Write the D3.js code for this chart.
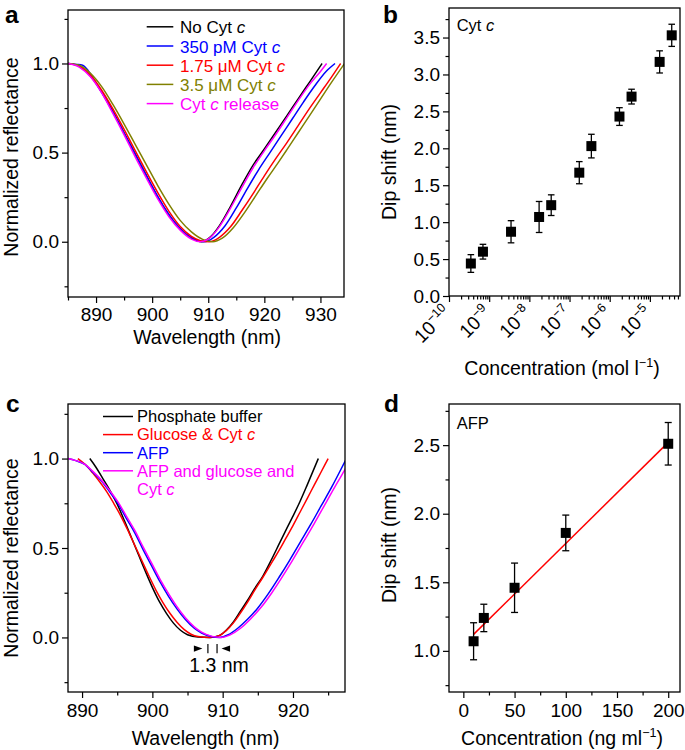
<!DOCTYPE html>
<html><head><meta charset="utf-8">
<script src="https://cdn.jsdelivr.net/npm/d3@7"></script>
<style>
body{margin:0;background:#fff;}
svg{font-family:"Liberation Sans",Arial,Helvetica,sans-serif;}
</style></head><body>
<svg id="chart" width="685" height="750"></svg>
<script>
// ---------- Panel a data (wavelength nm, normalized reflectance) ----------
const aLabels = ["No Cyt *c*", "350 pM Cyt *c*", "1.75 μM Cyt *c*", "3.5 μM Cyt *c*", "Cyt *c* release"];
const aColors = ["#000000", "#0000ff", "#ff0000", "#808000", "#ff00ff"];
const aNoCyt = [[885,1.0],[887,0.985],[889,0.93],[891,0.84],[893,0.73],[895,0.61],[897,0.49],[899,0.37],[901,0.25],[903,0.15],[905,0.07],[907,0.02],[908.8,0.0],[910.5,0.03],[912,0.09],[914,0.20],[916,0.32],[918,0.43],[920,0.52],[922,0.613],[924,0.706],[926,0.80],[928,0.893],[930.3,1.0]];
const a350pM = [[885,1.0],[886.5,0.995],[887.6,0.99],[888.6,0.96],[890,0.89],[892,0.785],[894,0.67],[896,0.55],[898,0.43],[900,0.31],[902,0.20],[904,0.11],[906,0.045],[908,0.008],[909.3,0.0],[911,0.025],[913,0.09],[915,0.19],[917,0.30],[919,0.405],[921,0.50],[923,0.595],[925,0.69],[927,0.785],[929,0.875],[931,0.955],[932.6,1.0]];
const a175uM = [[885,1.0],[887,0.985],[889,0.935],[891,0.85],[893,0.745],[895,0.63],[897,0.51],[899,0.39],[901,0.275],[903,0.17],[905,0.085],[907,0.03],[908.6,0.006],[910.2,0.0],[912,0.025],[914,0.085],[916,0.175],[918,0.27],[920,0.37],[922,0.465],[924,0.555],[926,0.65],[928,0.745],[930,0.835],[932,0.925],[933.6,1.0]];
const a35uM = [[885,1.0],[887,0.99],[889,0.945],[891,0.87],[893,0.77],[895,0.66],[897,0.545],[899,0.43],[901,0.315],[903,0.21],[905,0.12],[907,0.055],[909,0.013],[910.8,0.0],[912.5,0.02],[914.5,0.08],[916.5,0.165],[918.5,0.26],[920.5,0.355],[922.5,0.445],[924,0.515],[926,0.61],[928,0.705],[930,0.80],[932,0.895],[934.3,1.0]];
const aRelease = [[885,1.0],[887,0.98],[889,0.925],[891,0.835],[893,0.72],[895,0.60],[897,0.475],[899,0.355],[901,0.24],[903,0.14],[905,0.065],[907,0.015],[908.6,0.0],[910.5,0.028],[912,0.085],[914,0.19],[916,0.305],[918,0.415],[920,0.51],[922,0.60],[924,0.695],[926,0.79],[928,0.88],[930,0.955],[931.1,1.0]];
const aSeries = [aNoCyt, a350pM, a175uM, a35uM, aRelease];
const aXTicks = [890, 900, 910, 920, 930];
const aXMinor = [885, 895, 905, 915, 925];
const reflTicks = [0.0, 0.5, 1.0];
const reflMinor = [-0.25, 0.25, 0.75, 1.25];

// ---------- Panel b data ----------
const bConc = [3.5e-10, 7e-10, 3.5e-9, 1.75e-8, 3.5e-8, 1.75e-7, 3.5e-7, 1.75e-6, 3.5e-6, 1.75e-5, 3.5e-5];
const bShift = [0.44, 0.60, 0.87, 1.07, 1.23, 1.67, 2.03, 2.43, 2.70, 3.17, 3.53];
const bErr = [0.12, 0.10, 0.15, 0.21, 0.14, 0.15, 0.16, 0.12, 0.10, 0.15, 0.15];
const bTickExps = [-10, -9, -8, -7, -6, -5];
const bYTicks = [0.0, 0.5, 1.0, 1.5, 2.0, 2.5, 3.0, 3.5];
const bYMinor = [0.25, 0.75, 1.25, 1.75, 2.25, 2.75, 3.25, 3.75];

// ---------- Panel c data ----------
const cLabels = ["Phosphate buffer", "Glucose & Cyt *c*", "AFP", "AFP and glucose and|Cyt *c*"];
const cColors = ["#000000", "#ff0000", "#0000ff", "#ff00ff"];
const cBuffer = [[891.1,1.0],[892,0.95],[893,0.885],[894,0.82],[895,0.745],[896,0.655],[897,0.56],[898,0.465],[899,0.37],[900,0.28],[901,0.20],[902,0.135],[903,0.08],[904,0.04],[905,0.015],[906.5,0.002],[908.2,0.0],[909.5,0.01],[910.5,0.04],[911.5,0.085],[912.5,0.145],[913.5,0.205],[914.5,0.27],[915.7,0.342],[917,0.44],[918,0.52],[919,0.60],[920,0.678],[921,0.76],[922,0.85],[923.6,1.0]];
const cGlucose = [[889.4,1.0],[890.5,0.965],[891.5,0.92],[892.5,0.87],[893.5,0.815],[894.5,0.75],[895.5,0.68],[896.5,0.60],[897.5,0.515],[898.5,0.43],[899.5,0.345],[900.5,0.265],[901.5,0.195],[902.5,0.135],[903.5,0.085],[904.5,0.045],[905.5,0.018],[906.5,0.005],[908.2,0.0],[909.5,0.01],[910.5,0.038],[911.5,0.08],[912.5,0.135],[913.5,0.195],[914.5,0.26],[915.7,0.335],[917,0.42],[918,0.485],[919,0.555],[920,0.625],[921,0.70],[922,0.775],[923,0.85],[924,0.925],[925,1.0]];
const cAFP = [[888,1.0],[889,0.99],[890.4,0.967],[891.5,0.925],[892.8,0.873],[894,0.81],[895.2,0.743],[896.3,0.665],[897.5,0.585],[898.7,0.49],[899.9,0.40],[901.1,0.31],[902.3,0.23],[903.5,0.16],[904.7,0.10],[906,0.05],[907,0.025],[908.5,0.004],[909.5,0.0],[910.8,0.015],[912.1,0.05],[913.5,0.10],[915,0.165],[916.5,0.245],[918,0.335],[919.5,0.43],[921,0.53],[922.5,0.63],[924,0.735],[925.5,0.84],[926.5,0.915],[927.6,1.0]];
const cAll = [[888,1.0],[889,0.99],[890.4,0.968],[891.5,0.93],[892.8,0.878],[894,0.818],[895.2,0.752],[896.3,0.678],[897.5,0.598],[898.7,0.505],[899.9,0.415],[901.1,0.325],[902.3,0.245],[903.5,0.172],[904.7,0.11],[906,0.058],[907,0.03],[908.5,0.006],[909.8,0.0],[911,0.013],[912.5,0.05],[914,0.105],[915.5,0.17],[917,0.25],[918.5,0.34],[920,0.435],[921.5,0.535],[923,0.635],[924.5,0.74],[926,0.845],[927.5,0.945],[928.3,1.0]];
const cSeries = [cBuffer, cGlucose, cAFP, cAll];
const cXTicks = [890, 900, 910, 920];
const cXMinor = [895, 905, 915, 925];
const cShiftFrom = 907.9, cShiftTo = 909.2; // 1.3 nm
const cShiftLabel = "1.3 nm";

// ---------- Panel d data ----------
const dConc = [10, 20, 50, 100, 200];
const dShift = [1.07, 1.24, 1.46, 1.86, 2.51];
const dErr = [0.135, 0.10, 0.18, 0.13, 0.155];
const dFitX = [10, 200];
const dFitY = [1.12, 2.52];
const dXTicks = [0, 50, 100, 150, 200];
const dXMinor = [25, 75, 125, 175];
const dYTicks = [1.0, 1.5, 2.0, 2.5];
const dYMinor = [0.75, 1.25, 1.75, 2.25, 2.75];

// ---------- Layout ----------
const svg = d3.select("#chart");
const FS = 19;
const fa = {l:68, r:344, t:10, b:297};
const fb = {l:449, r:680, t:8, b:296};
const fc = {l:68, r:345, t:404, b:692};
const fd = {l:449, r:680, t:404, b:692};

function styleAxis(sel){
  sel.select(".domain").remove();
  sel.attr("font-family", null).attr("font-size", null);
  sel.selectAll(".tick line").attr("stroke", "#000").attr("stroke-width", 1.2);
  sel.selectAll(".tick text").attr("fill", "#000").attr("font-size", FS);
}
function xAxis(scale, f, major, minor, fmt, pad){
  const g = svg.append("g").attr("transform", `translate(0,${f.b})`);
  g.call(d3.axisBottom(scale).tickValues(major).tickSize(6).tickPadding(pad).tickFormat(fmt)).call(styleAxis);
  const g2 = svg.append("g").attr("transform", `translate(0,${f.b})`);
  g2.call(d3.axisBottom(scale).tickValues(minor).tickSize(3.5).tickFormat("")).call(styleAxis);
}
function yAxis(scale, f, major, minor, fmt){
  const g = svg.append("g").attr("transform", `translate(${f.l},0)`);
  g.call(d3.axisLeft(scale).tickValues(major).tickSize(6).tickPadding(3).tickFormat(fmt)).call(styleAxis);
  const g2 = svg.append("g").attr("transform", `translate(${f.l},0)`);
  g2.call(d3.axisLeft(scale).tickValues(minor).tickSize(3.5).tickFormat("")).call(styleAxis);
}
function frame(f){
  svg.append("rect").attr("x", f.l).attr("y", f.t).attr("width", f.r - f.l).attr("height", f.b - f.t)
    .attr("fill", "none").attr("stroke", "#000").attr("stroke-width", 1.3);
}
function clip(id, f){
  svg.append("clipPath").attr("id", id).append("rect").attr("x", f.l).attr("y", f.t).attr("width", f.r - f.l).attr("height", f.b - f.t);
}
function richText(sel, str){
  str.split("*").forEach((part, i) => {
    if (!part) return;
    sel.append("tspan").text(part).attr("font-style", i % 2 ? "italic" : null);
  });
}
function panelLabel(t, x, y){
  svg.append("text").attr("x", x).attr("y", y).attr("font-size", 24.5).attr("font-weight", "bold").text(t);
}
function yTitle(t, x, y){
  svg.append("text").attr("transform", `translate(${x},${y}) rotate(-90)`).attr("text-anchor", "middle").attr("font-size", 19.5).text(t);
}
function xTitleSup(base, sup, x, y){
  const t = svg.append("text").attr("x", x).attr("y", y).attr("text-anchor", "middle").attr("font-size", 19.5);
  t.append("tspan").text(base);
  t.append("tspan").attr("font-size", 12.5).attr("dy", -8).text(sup);
  t.append("tspan").attr("dy", 8).text(")");
}

// ---------- Panel a ----------
const xa = d3.scaleLinear().domain([885, 934.2]).range([fa.l, fa.r]);
const ya = d3.scaleLinear().domain([-0.31, 1.30]).range([fa.b, fa.t]);
clip("clipA", fa);
const lineA = d3.line().x(d => xa(d[0])).y(d => ya(d[1])).curve(d3.curveMonotoneX);
svg.append("g").attr("clip-path", "url(#clipA)").selectAll("path").data(aSeries).join("path")
  .attr("d", lineA).attr("fill", "none").attr("stroke", (d, i) => aColors[i]).attr("stroke-width", 1.5);
xAxis(xa, fa, aXTicks, aXMinor, d3.format("d"), 5);
yAxis(ya, fa, reflTicks, reflMinor, d3.format(".1f"));
frame(fa);
aLabels.forEach((lab, i) => {
  const by = 33.3 + i * 19.2;
  svg.append("line").attr("x1", 146.7).attr("x2", 173.3).attr("y1", by - 6.5).attr("y2", by - 6.5)
    .attr("stroke", aColors[i]).attr("stroke-width", 1.5);
  const t = svg.append("text").attr("x", 180).attr("y", by).attr("font-size", 17).attr("fill", aColors[i]);
  richText(t, lab);
});
panelLabel("a", 5, 23);
yTitle("Normalized reflectance", 17.5, 157);
svg.append("text").attr("x", 207).attr("y", 343.5).attr("text-anchor", "middle").attr("font-size", 19.5).text("Wavelength (nm)");

// ---------- Panel b ----------
const xb = d3.scaleLog().domain([1e-10, Math.pow(10, -4.25)]).range([fb.l, fb.r]);
const yb = d3.scaleLinear().domain([0, 3.9]).range([fb.b, fb.t]);
const bMajor = bTickExps.map(e => Math.pow(10, e));
const bMinor = [];
bTickExps.forEach(e => { for (let k = 2; k <= 9; k++) { const v = k * Math.pow(10, e); if (v <= xb.domain()[1]) bMinor.push(v); } });
xAxis(xb, fb, bMajor, bMinor, () => "", 6);
yAxis(yb, fb, bYTicks, bYMinor, d3.format(".1f"));
frame(fb);
svg.append("g").selectAll("text").data(bTickExps).join("text")
  .attr("transform", d => `translate(${xb(Math.pow(10, d)) + 3},${fb.b + 18}) rotate(-45)`)
  .attr("text-anchor", "end").attr("font-size", FS)
  .each(function(d){
    const t = d3.select(this);
    t.append("tspan").text("10");
    t.append("tspan").attr("font-size", 12.5).attr("dy", -8).text("−" + Math.abs(d));
  });
const gb = svg.append("g");
bConc.forEach((c, i) => {
  const x = xb(c), y0 = yb(bShift[i] - bErr[i]), y1 = yb(bShift[i] + bErr[i]);
  gb.append("line").attr("x1", x).attr("x2", x).attr("y1", y0).attr("y2", y1).attr("stroke", "#000").attr("stroke-width", 1.3);
  [y0, y1].forEach(yy => gb.append("line").attr("x1", x - 3.3).attr("x2", x + 3.3).attr("y1", yy).attr("y2", yy).attr("stroke", "#000").attr("stroke-width", 1.3));
  gb.append("rect").attr("x", x - 5).attr("y", yb(bShift[i]) - 5).attr("width", 10).attr("height", 10).attr("fill", "#000");
});
{
  const t = svg.append("text").attr("x", 456.7).attr("y", 30.5).attr("font-size", 16.5);
  richText(t, "Cyt *c*");
}
panelLabel("b", 383, 23);
yTitle("Dip shift (nm)", 395.5, 162);
xTitleSup("Concentration (mol l", "−1", 562, 375);

// ---------- Panel c ----------
const xc = d3.scaleLinear().domain([888, 927.4]).range([fc.l, fc.r]);
const yc = d3.scaleLinear().domain([-0.305, 1.305]).range([fc.b, fc.t]);
clip("clipC", fc);
const lineC = d3.line().x(d => xc(d[0])).y(d => yc(d[1])).curve(d3.curveMonotoneX);
svg.append("g").attr("clip-path", "url(#clipC)").selectAll("path").data(cSeries).join("path")
  .attr("d", lineC).attr("fill", "none").attr("stroke", (d, i) => cColors[i]).attr("stroke-width", 1.5);
xAxis(xc, fc, cXTicks, cXMinor, d3.format("d"), 6);
yAxis(yc, fc, reflTicks, reflMinor, d3.format(".1f"));
frame(fc);
{
  let by = 422.3;
  cLabels.forEach((lab, i) => {
    svg.append("line").attr("x1", 103).attr("x2", 133).attr("y1", by - 5.8).attr("y2", by - 5.8)
      .attr("stroke", cColors[i]).attr("stroke-width", 1.5);
    lab.split("|").forEach((ln, j) => {
      const t = svg.append("text").attr("x", 137).attr("y", by + j * 18.5).attr("font-size", 16.5).attr("fill", cColors[i]);
      richText(t, ln);
    });
    by += 18.1 * lab.split("|").length;
  });
  // shift annotation
  const x0 = xc(cShiftFrom), x1 = xc(cShiftTo), ay = 648.6;
  const ga = svg.append("g");
  [x0, x1].forEach(x => ga.append("line").attr("x1", x).attr("x2", x).attr("y1", 644).attr("y2", 653.3).attr("stroke", "#000").attr("stroke-width", 1.2));
  ga.append("path").attr("d", `M${x0 - 5.5},${ay} L${x0 - 14},${ay - 3.2} L${x0 - 14},${ay + 3.2} Z`).attr("fill", "#000");
  ga.append("path").attr("d", `M${x1 + 4.5},${ay} L${x1 + 13},${ay - 3.2} L${x1 + 13},${ay + 3.2} Z`).attr("fill", "#000");
  ga.append("text").attr("x", (x0 + x1) / 2 + 6.5).attr("y", 671.7).attr("text-anchor", "middle").attr("font-size", 19.5).text(cShiftLabel);
}
panelLabel("c", 6, 412);
yTitle("Normalized reflectance", 17.5, 558);
svg.append("text").attr("x", 205.5).attr("y", 745).attr("text-anchor", "middle").attr("font-size", 19.5).text("Wavelength (nm)");

// ---------- Panel d ----------
const xd = d3.scaleLinear().domain([-14, 211.5]).range([fd.l, fd.r]);
const yd = d3.scaleLinear().domain([0.7, 2.8]).range([fd.b, fd.t]);
xAxis(xd, fd, dXTicks, dXMinor, d3.format("d"), 6);
yAxis(yd, fd, dYTicks, dYMinor, d3.format(".1f"));
frame(fd);
svg.append("line").attr("x1", xd(dFitX[0])).attr("x2", xd(dFitX[1])).attr("y1", yd(dFitY[0])).attr("y2", yd(dFitY[1]))
  .attr("stroke", "#ff0000").attr("stroke-width", 1.5);
const gd = svg.append("g");
dConc.forEach((c, i) => {
  const x = xd(c), y0 = yd(dShift[i] - dErr[i]), y1 = yd(dShift[i] + dErr[i]);
  gd.append("line").attr("x1", x).attr("x2", x).attr("y1", y0).attr("y2", y1).attr("stroke", "#000").attr("stroke-width", 1.3);
  [y0, y1].forEach(yy => gd.append("line").attr("x1", x - 3.5).attr("x2", x + 3.5).attr("y1", yy).attr("y2", yy).attr("stroke", "#000").attr("stroke-width", 1.3));
  gd.append("rect").attr("x", x - 5).attr("y", yd(dShift[i]) - 5).attr("width", 10).attr("height", 10).attr("fill", "#000");
});
svg.append("text").attr("x", 456.7).attr("y", 429.3).attr("font-size", 16.5).text("AFP");
panelLabel("d", 384, 412);
yTitle("Dip shift (nm)", 395.5, 545);
xTitleSup("Concentration (ng ml", "−1", 562, 744.5);
</script></body></html>
